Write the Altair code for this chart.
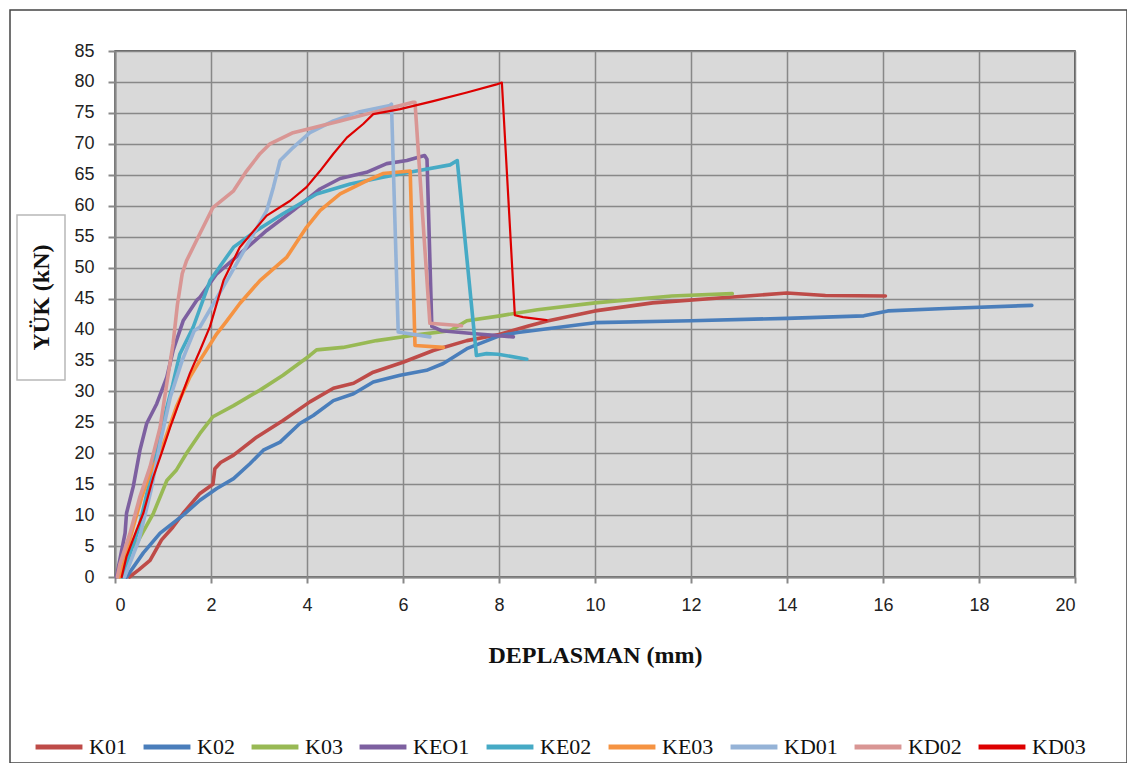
import altair as alt
import pandas as pd

series_names = ["K01", "K02", "K03", "KEO1", "KE02", "KE03", "KD01", "KD02", "KD03"]
series_colors = ["#BE4B48", "#4A7EBB", "#98B954", "#7D60A0", "#46AAC5", "#F59342", "#95B3D7", "#D99694", "#DD0000"]

k01_x = [0.3, 0.5, 0.73, 0.97, 1.2, 1.42, 1.77, 2.04, 2.08, 2.2, 2.47, 2.95, 3.5, 4.06, 4.55, 4.97, 5.38, 6.0, 6.63, 7.33, 8.0, 8.63, 9.03, 10.0, 11.2, 12.8, 14.0, 14.8, 16.05]
k01_y = [0, 1.2, 2.7, 6.0, 8.0, 10.3, 13.5, 15.0, 17.5, 18.5, 19.7, 22.6, 25.3, 28.3, 30.5, 31.3, 33.1, 34.7, 36.6, 38.2, 39.2, 40.6, 41.4, 43.0, 44.3, 45.2, 45.9, 45.5, 45.4]

k02_x = [0.24, 0.59, 0.94, 1.42, 1.77, 2.12, 2.47, 2.81, 3.09, 3.44, 3.85, 4.13, 4.55, 4.97, 5.38, 5.94, 6.49, 6.84, 7.33, 8.02, 8.39, 10.0, 12.0, 14.0, 15.6, 16.1, 17.3, 19.1]
k02_y = [0, 3.9, 7.1, 10.0, 12.4, 14.3, 15.9, 18.3, 20.5, 21.8, 24.8, 26.1, 28.5, 29.6, 31.5, 32.6, 33.4, 34.5, 36.9, 39.0, 39.5, 41.1, 41.4, 41.8, 42.2, 43.0, 43.4, 43.9]

k03_x = [0.42, 0.8, 1.08, 1.28, 1.49, 1.77, 2.04, 2.47, 3.02, 3.5, 4.06, 4.2, 4.75, 5.45, 6.15, 6.98, 7.33, 8.02, 8.8, 10.0, 11.6, 12.86]
k03_y = [5.0, 10.3, 15.6, 17.3, 20.0, 23.2, 25.9, 27.7, 30.2, 32.6, 35.8, 36.7, 37.1, 38.2, 39.0, 39.8, 41.4, 42.2, 43.2, 44.3, 45.4, 45.8]

keo1_x = [0.03, 0.21, 0.24, 0.38, 0.52, 0.66, 0.87, 1.08, 1.21, 1.42, 1.7, 1.77, 2.12, 2.6, 3.16, 3.71, 4.27, 4.69, 5.24, 5.66, 6.08, 6.45, 6.5, 6.6, 6.8, 7.5, 8.3]
keo1_y = [0, 7.1, 10.3, 14.6, 20.5, 24.8, 28.0, 32.3, 36.6, 41.4, 44.7, 45.2, 49.0, 52.2, 56.0, 59.2, 62.7, 64.4, 65.4, 66.8, 67.3, 68.1, 67.5, 40.5, 39.8, 39.3, 38.8]

ke02_x = [0.15, 0.5, 0.8, 1.0, 1.2, 1.35, 1.63, 1.98, 2.47, 2.95, 3.5, 4.2, 4.9, 5.58, 6.28, 6.98, 7.13, 7.53, 7.74, 7.98, 8.58]
ke02_y = [0, 8, 18, 25, 31, 36, 40.4, 47.9, 53.3, 56.0, 58.7, 61.9, 63.5, 64.6, 65.6, 66.6, 67.3, 35.8, 36.1, 36.0, 35.2]

ke03_x = [0.1, 0.38, 0.56, 0.73, 0.94, 1.28, 1.56, 1.77, 2.12, 2.33, 2.6, 3.02, 3.58, 3.99, 4.27, 4.69, 5.24, 5.58, 6.15, 6.25, 6.84]
ke03_y = [0, 8.1, 13.0, 16.8, 20.0, 27.5, 32.3, 35.0, 39.3, 41.4, 44.2, 47.9, 51.7, 56.5, 59.2, 61.9, 64.0, 65.2, 65.6, 37.4, 37.1]

kd01_x = [0.2, 0.5, 0.75, 0.95, 1.15, 1.4, 1.65, 1.77, 2.33, 2.81, 3.16, 3.3, 3.44, 3.71, 4.06, 4.55, 5.1, 5.73, 5.76, 5.9, 6.56]
kd01_y = [0, 6, 14, 22, 29, 35, 39.8, 40.4, 47.9, 54.4, 59.2, 63.0, 67.3, 69.4, 71.8, 73.7, 75.2, 76.2, 76.4, 39.6, 38.8]

kd02_x = [0.05, 0.1, 0.31, 0.52, 0.73, 0.94, 1.08, 1.21, 1.3, 1.4, 1.49, 1.77, 2.04, 2.47, 2.74, 3.02, 3.23, 3.71, 4.13, 4.69, 5.24, 5.8, 6.21, 6.25, 6.56, 7.22]
kd02_y = [0, 2, 7, 13, 17.8, 24.2, 31.3, 37.7, 44.0, 49.0, 51.1, 55.5, 59.7, 62.4, 65.6, 68.4, 70.0, 71.8, 72.6, 73.7, 74.8, 75.9, 76.7, 76.7, 41.0, 40.6]

kd03_x = [0.14, 0.24, 0.45, 0.59, 0.8, 0.97, 1.15, 1.35, 1.56, 1.77, 1.98, 2.26, 2.6, 2.95, 3.16, 3.65, 3.99, 4.27, 4.55, 4.83, 5.17, 5.38, 5.94, 6.63, 7.33, 7.95, 8.06, 8.33, 8.5, 8.99]
kd03_y = [0, 3.3, 7.6, 10.3, 16.2, 20.0, 24.2, 28.5, 32.9, 36.6, 40.5, 47.9, 53.3, 56.5, 58.4, 60.8, 63.0, 65.6, 68.4, 71.0, 73.2, 74.8, 75.6, 76.9, 78.3, 79.6, 79.9, 42.3, 42.0, 41.5]

x_ticks = list(range(0, 21, 2))
y_ticks = list(range(0, 86, 5))

all_x = [k01_x, k02_x, k03_x, keo1_x, ke02_x, ke03_x, kd01_x, kd02_x, kd03_x]
all_y = [k01_y, k02_y, k03_y, keo1_y, ke02_y, ke03_y, kd01_y, kd02_y, kd03_y]

rows = []
for name, xs, ys in zip(series_names, all_x, all_y):
    for i, (xv, yv) in enumerate(zip(xs, ys)):
        rows.append({"series": name, "x": xv, "y": yv, "i": i})
df = pd.DataFrame(rows)

W, H = 960, 526

lines = alt.Chart(df).mark_line(strokeJoin="round", strokeCap="round").encode(
    x=alt.X("x:Q", scale=alt.Scale(domain=[0, 20], nice=False),
            axis=alt.Axis(values=x_ticks, title="DEPLASMAN (mm)", grid=True,
                          labelFont="Liberation Sans", labelFontSize=18, labelColor="#222",
                          tickColor="#888", tickSize=6, tickWidth=2,
                          domainColor="#888", domainWidth=2,
                          gridColor="#888", gridWidth=1.5,
                          labelPadding=13,
                          titleFont="Liberation Serif", titleFontSize=24, titleFontWeight="bold",
                          titleColor="#111", titleY=78, titleBaseline="middle")),
    y=alt.Y("y:Q", scale=alt.Scale(domain=[0, 85], nice=False),
            axis=alt.Axis(values=y_ticks, title="YÜK (kN)", grid=True,
                          labelFont="Liberation Sans", labelFontSize=18, labelColor="#222",
                          tickColor="#888", tickSize=7, tickWidth=2,
                          domainColor="#888", domainWidth=2,
                          gridColor="#888", gridWidth=1.5,
                          labelPadding=14,
                          titleFont="Liberation Serif", titleFontSize=24, titleFontWeight="bold",
                          titleColor="#111", titleX=-74, titleY=246, titleAngle=270,
                          titleAlign="center", titleBaseline="middle")),
    color=alt.Color("series:N", sort=series_names,
                    scale=alt.Scale(domain=series_names, range=series_colors),
                    legend=alt.Legend(orient="none", legendX=-82, legendY=670,
                                      direction="horizontal", columns=9, title=None,
                                      symbolType="stroke", symbolSize=2200, symbolStrokeWidth=5,
                                      labelFont="Liberation Serif", labelFontSize=22, labelColor="#111",
                                      labelOffset=4, columnPadding=6, padding=0)),
    strokeWidth=alt.condition(alt.datum.series == "KD03", alt.value(2.2), alt.value(3.6)),
    order="i:Q",
)

one = pd.DataFrame({"a": [0]})
title_box = alt.Chart(one).mark_rect(fillOpacity=0, stroke="#b8b8b8", strokeWidth=1.5).encode(
    x=alt.value(-98), x2=alt.value(-50), y=alt.value(164), y2=alt.value(329)
)
outer_border = alt.Chart(one).mark_rect(fillOpacity=0, stroke="#444", strokeWidth=1.5).encode(
    x=alt.value(-105), x2=alt.value(1012), y=alt.value(-41), y2=alt.value(712)
)

chart = alt.layer(lines, title_box, outer_border).properties(
    width=W, height=H,
    padding={"left": 107, "top": 43, "right": 52, "bottom": 186},
    autosize=alt.AutoSizeParams(type="none"),
    background="white",
).configure_view(fill="#D9D9D9", stroke="#333", strokeWidth=1.5)

chart.save("out.html", embed_options={"renderer": "svg", "actions": False})
